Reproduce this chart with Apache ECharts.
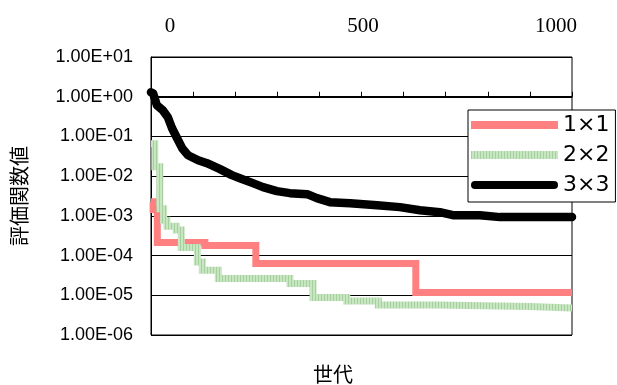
<!DOCTYPE html>
<html><head><meta charset="utf-8">
<script src="https://cdn.jsdelivr.net/npm/echarts@6/dist/echarts.min.js"></script>
<style>html,body{margin:0;padding:0;background:#fff}#c{width:617px;height:385px}</style>
</head><body><div id="c"></div>
<script>
// ---- data ----
const seriesNames = ['1×1', '2×2', '3×3'];
const gen1 = [0, 5, 15, 128, 249, 629, 1000];
const val1 = [2.28e-3, 1.44e-3, 2.12e-4, 1.79e-4, 6.3e-5, 1.17e-5, 1.17e-5];
const gen2 = [0, 9, 21, 30, 38, 60, 72, 110, 122, 160, 330, 385, 465, 540, 680, 900, 1000];
const val2 = [6.56e-2, 1.73e-2, 1.52e-3, 7.8e-4, 5.5e-4, 4.4e-4, 1.6e-4, 6.9e-5, 4.3e-5, 2.64e-5, 1.98e-5, 8.8e-6, 7.2e-6, 5.7e-6, 5.2e-6, 4.8e-6, 4.8e-6];
const gen3 = [0, 5, 14, 28, 40, 50, 62, 74, 88, 112, 133, 164, 192, 211, 242, 266, 299, 330, 371, 394, 425, 473, 537, 591, 639, 686, 717, 781, 829, 893, 955, 1000];
const val3 = [1.29, 1.22, 0.61, 0.456, 0.304, 0.161, 0.090, 0.0506, 0.0337, 0.0252, 0.0212, 0.0150, 0.0106, 0.0089, 0.00666, 0.00528, 0.00419, 0.00373, 0.00352, 0.00279, 0.00221, 0.00209, 0.00186, 0.00166, 0.00139, 0.00124, 0.00104, 0.00104, 0.00093, 0.00093, 0.00093, 0.00093];
const xTickLabels = [0, 500, 1000];
const yTickLabels = ['1.00E-06', '1.00E-05', '1.00E-04', '1.00E-03', '1.00E-02', '1.00E-01', '1.00E+00', '1.00E+01'];
const yTitle = '評価関数値';
const xTitle = '世代';

// green hatch pattern
const pc = document.createElement('canvas');
pc.width = 3; pc.height = 3;
const pctx = pc.getContext('2d');
pctx.fillStyle = '#c9e6c3'; pctx.fillRect(0, 0, 3, 3);
pctx.fillStyle = '#a5d19e'; pctx.fillRect(0, 0, 1, 3);
const greenPattern = { image: pc, repeat: 'repeat' };

const colors = ['#ff8080', greenPattern, '#000'];
const legendIcons = ['rect', 'rect', 'path://M4,0H83A4,4,0,0,1,83,8H4A4,4,0,0,1,4,0Z'];

const chart = echarts.init(document.getElementById('c'), null, { renderer: 'canvas' });
const pair = (g, v) => g.map((x, i) => [x, v[i]]);
chart.setOption({
  animation: false,
  backgroundColor: '#fff',
  title: { text: xTitle, left: 308, top: 359, textStyle: { fontFamily: 'Noto Sans CJK JP', fontSize: 20, fontWeight: 'normal', color: '#000' } },
  grid: { left: 151, right: 45, top: 57, bottom: 50, show: true, borderColor: '#000', borderWidth: 1 },
  xAxis: [
    { type: 'value', min: 0, max: 1000, interval: 100, position: 'top', offset: -39.76,
      axisLine: { lineStyle: { color: '#000', width: 1 } },
      axisTick: { inside: false, length: 5, lineStyle: { color: '#000' } },
      axisLabel: { show: false }, splitLine: { show: false } },
    { type: 'value', min: -49.5, max: 1041.2, position: 'top',
      axisLine: { show: false }, axisTick: { show: false }, splitLine: { show: false },
      axisLabel: { customValues: xTickLabels, margin: 20, fontFamily: 'Liberation Serif', fontSize: 21, color: '#000', formatter: v => String(v) } }
  ],
  yAxis: {
    type: 'log', logBase: 10, min: 1e-6, max: 10,
    axisLine: { show: true, lineStyle: { color: '#000' } },
    axisTick: { inside: true, length: 5, lineStyle: { color: '#000' } },
    splitLine: { show: true, lineStyle: { color: '#000', width: 1 } },
    axisLabel: { margin: 18, fontFamily: 'Liberation Sans', fontSize: 18, color: '#000',
      formatter: v => yTickLabels[Math.round(Math.log10(v)) + 6] },
    name: yTitle, nameLocation: 'middle', nameRotate: 90, nameGap: 122,
    nameTextStyle: { fontFamily: 'Noto Sans CJK JP', fontSize: 20, color: '#000' }
  },
  legend: {
    orient: 'vertical', left: 468, top: 110, padding: [4, 6, 6, 3], itemGap: 8,
    itemWidth: 87, itemHeight: 8, backgroundColor: '#fff', borderColor: '#000', borderWidth: 1,
    textStyle: { fontFamily: 'DejaVu Sans', fontSize: 22, color: '#000' },
    data: seriesNames.map((n, i) => ({ name: n, icon: legendIcons[i], itemStyle: { color: colors[i], borderWidth: 0 } }))
  },
  series: [
    { name: seriesNames[0], type: 'line', step: 'end', data: pair(gen1, val1), symbol: 'none',
      itemStyle: { color: colors[0] }, lineStyle: { color: colors[0], width: 7, join: 'miter' } },
    { name: seriesNames[1], type: 'line', step: 'end', data: pair(gen2, val2), symbol: 'none',
      itemStyle: { color: colors[1] }, lineStyle: { color: colors[1], width: 7, join: 'miter' } },
    { name: seriesNames[2], type: 'line', data: pair(gen3, val3), symbol: 'none',
      itemStyle: { color: colors[2] }, lineStyle: { color: colors[2], width: 8.5, cap: 'round', join: 'round' } }
  ]
});
</script></body></html>
